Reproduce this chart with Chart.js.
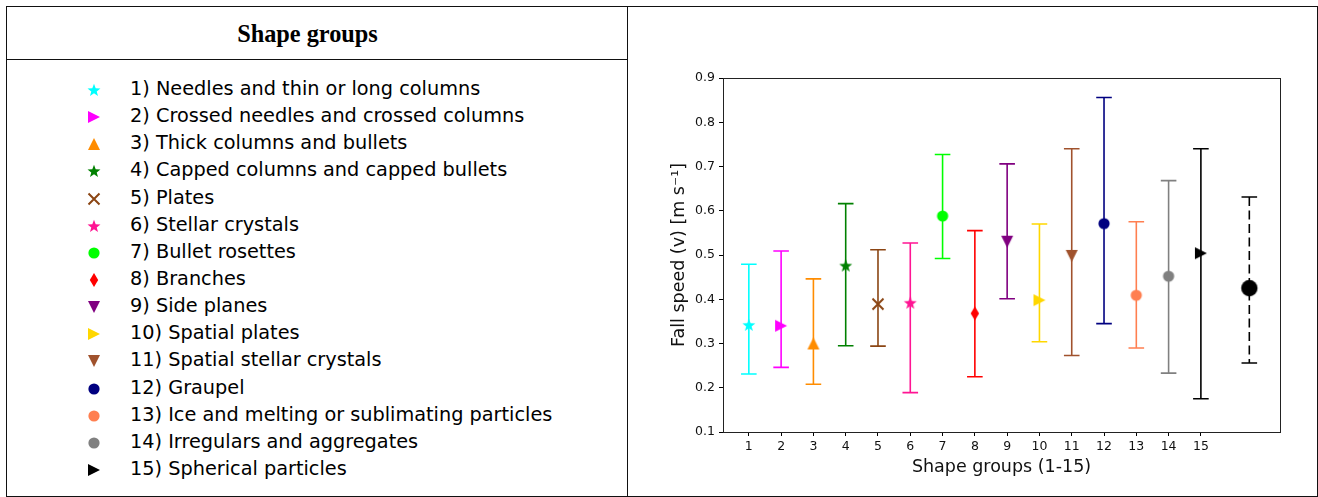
<!DOCTYPE html>
<html>
<head>
<meta charset="utf-8">
<script src="https://cdn.jsdelivr.net/npm/chart.js@4/dist/chart.umd.min.js"></script>
<style>
  html, body { margin: 0; padding: 0; background: #fff; }
  body { width: 1318px; height: 497px; position: relative; overflow: hidden; font-family: "DejaVu Sans", sans-serif; }
  .frame { position: absolute; left: 6px; top: 6px; width: 1310px; height: 489px; border: 1px solid #111; }
  .divider { position: absolute; left: 627px; top: 6px; width: 1px; height: 490px; background: #111; }
  .headLine { position: absolute; left: 6px; top: 59px; width: 621px; height: 1px; background: #111; }
  .title { position: absolute; left: 6px; width: 603px; top: 20px; text-align: center; font-family: "Liberation Serif", serif; font-weight: bold; font-size: 24.3px; color: #000; }
  #legend { position: absolute; left: 0; top: 76px; }
  .row { position: relative; height: 27.15px; width: 620px; }
  .row canvas { position: absolute; left: 86px; top: 6px; }
  .row span { position: absolute; left: 130px; top: 1px; font-size: 19.3px; color: #000; white-space: nowrap; }
  #wrap { position: absolute; left: 628px; top: 7px; width: 688px; height: 488px; }
</style>
</head>
<body>
<div class="frame"></div>
<div class="divider"></div>
<div class="headLine"></div>
<div class="title">Shape groups</div>
<div id="legend"></div>
<div id="wrap"><canvas id="chart"></canvas></div>
<script>
// shape group names (legend)
const groupLabels = [
  "1) Needles and thin or long columns",
  "2) Crossed needles and crossed columns",
  "3) Thick columns and bullets",
  "4) Capped columns and capped bullets",
  "5) Plates",
  "6) Stellar crystals",
  "7) Bullet rosettes",
  "8) Branches",
  "9) Side planes",
  "10) Spatial plates",
  "11) Spatial stellar crystals",
  "12) Graupel",
  "13) Ice and melting or sublimating particles",
  "14) Irregulars and aggregates",
  "15) Spherical particles"
];
// x position of each point (last one = all groups)
const groupX = [1, 2, 3, 4, 5, 6, 7, 8, 9, 10, 11, 12, 13, 14, 15, 16.5];
const meanSpeed = [0.342, 0.340, 0.300, 0.476, 0.389, 0.392, 0.588, 0.368, 0.530, 0.398, 0.498, 0.571, 0.409, 0.452, 0.504, 0.425];
const lowSpeed  = [0.231, 0.246, 0.208, 0.295, 0.294, 0.189, 0.492, 0.225, 0.401, 0.304, 0.273, 0.345, 0.290, 0.233, 0.175, 0.256];
const highSpeed = [0.479, 0.509, 0.446, 0.616, 0.512, 0.527, 0.727, 0.555, 0.706, 0.570, 0.740, 0.856, 0.575, 0.668, 0.740, 0.631];
const xTicks = [1, 2, 3, 4, 5, 6, 7, 8, 9, 10, 11, 12, 13, 14, 15];
const yTicks = [0.1, 0.2, 0.3, 0.4, 0.5, 0.6, 0.7, 0.8, 0.9];

const markerColors = ["#00ffff", "#ff00ff", "#ff8c00", "#008000", "#8b4513", "#ff1493", "#00ff00", "#ff0000",
                      "#800080", "#ffd700", "#a0522d", "#000080", "#ff7f50", "#808080", "#000000", "#000000"];
const markerShapes = ["star", "triRight", "triUp", "star", "x", "star", "circle", "thinDiamond",
                      "triDown", "triRight", "triDown", "circle", "circle", "circle", "triRight", "bigCircle"];

function makeMarker(shape, color) {
  const size = shape === "bigCircle" ? 22 : 16;
  const c = document.createElement("canvas");
  c.width = size; c.height = size;
  const g = c.getContext("2d");
  const m = size / 2;
  g.fillStyle = color; g.strokeStyle = color;
  g.beginPath();
  if (shape === "circle" || shape === "bigCircle") {
    g.arc(m, m, shape === "bigCircle" ? 8.2 : 5.6, 0, Math.PI * 2);
    g.fill();
  } else if (shape === "star") {
    const ro = 6.8, ri = ro * 0.42;
    for (let k = 0; k < 10; k++) {
      const r = k % 2 ? ri : ro;
      const a = -Math.PI / 2 + k * Math.PI / 5;
      g.lineTo(m + r * Math.cos(a), m + 0.5 + r * Math.sin(a));
    }
    g.closePath(); g.fill();
  } else if (shape === "triUp") {
    g.moveTo(m, m - 6); g.lineTo(m + 6, m + 6); g.lineTo(m - 6, m + 6); g.closePath(); g.fill();
  } else if (shape === "triDown") {
    g.moveTo(m, m + 6); g.lineTo(m + 6, m - 6); g.lineTo(m - 6, m - 6); g.closePath(); g.fill();
  } else if (shape === "triRight") {
    g.moveTo(m + 6, m); g.lineTo(m - 6, m - 6); g.lineTo(m - 6, m + 6); g.closePath(); g.fill();
  } else if (shape === "thinDiamond") {
    g.moveTo(m, m - 7); g.lineTo(m + 4.2, m); g.lineTo(m, m + 7); g.lineTo(m - 4.2, m); g.closePath(); g.fill();
  } else if (shape === "x") {
    g.lineWidth = 2;
    g.moveTo(m - 5.5, m - 5.5); g.lineTo(m + 5.5, m + 5.5);
    g.moveTo(m + 5.5, m - 5.5); g.lineTo(m - 5.5, m + 5.5);
    g.stroke();
  }
  return c;
}

const markers = markerShapes.map((s, i) => makeMarker(s, markerColors[i]));

// left panel legend
const legend = document.getElementById("legend");
groupLabels.forEach((txt, i) => {
  const row = document.createElement("div");
  row.className = "row";
  const mk = makeMarker(markerShapes[i], markerColors[i]);
  const sp = document.createElement("span");
  sp.textContent = txt;
  row.appendChild(mk);
  row.appendChild(sp);
  legend.appendChild(row);
});

const errorBars = {
  id: "errorBars",
  beforeDatasetsDraw(chart) {
    const ctx = chart.ctx;
    const xs = chart.scales.x, ys = chart.scales.y;
    ctx.save();
    ctx.lineWidth = 1.6;
    for (let i = 0; i < groupX.length; i++) {
      const px = xs.getPixelForValue(groupX[i]);
      const top = ys.getPixelForValue(highSpeed[i]);
      const bot = ys.getPixelForValue(lowSpeed[i]);
      ctx.strokeStyle = markerColors[i];
      ctx.setLineDash(i === groupX.length - 1 ? [9, 4.5] : []);
      ctx.beginPath(); ctx.moveTo(px, top); ctx.lineTo(px, bot); ctx.stroke();
      ctx.setLineDash([]);
      ctx.beginPath();
      ctx.moveTo(px - 7.8, top); ctx.lineTo(px + 7.8, top);
      ctx.moveTo(px - 7.8, bot); ctx.lineTo(px + 7.8, bot);
      ctx.stroke();
    }
    ctx.restore();
  }
};

const boxFrame = {
  id: "boxFrame",
  afterDraw(chart) {
    const a = chart.chartArea, ctx = chart.ctx;
    ctx.save();
    ctx.strokeStyle = "#222";
    ctx.lineWidth = 1;
    ctx.strokeRect(Math.round(a.left) + 0.5, Math.round(a.top) + 0.5, Math.round(a.right - a.left), Math.round(a.bottom - a.top));
    ctx.restore();
  }
};

new Chart(document.getElementById("chart"), {
  type: "scatter",
  data: {
    datasets: [{
      data: groupX.map((x, i) => ({ x: x, y: meanSpeed[i] })),
      pointStyle: markers,
      pointRadius: 6,
      backgroundColor: markerColors,
      borderColor: markerColors
    }]
  },
  options: {
    responsive: true,
    maintainAspectRatio: false,
    animation: false,
    layout: { padding: { top: 71, right: 36, left: 0, bottom: 0 } },
    plugins: { legend: { display: false }, tooltip: { enabled: false } },
    scales: {
      x: {
        type: "linear",
        min: 0.2,
        max: 17.45,
        afterBuildTicks: s => { s.ticks = xTicks.map(v => ({ value: v })); },
        afterFit: s => { s.height = 63; },
        border: { display: false },
        grid: { drawOnChartArea: false, drawTicks: true, tickLength: 4, color: "#000" },
        ticks: { color: "#111", padding: 3, font: { family: "DejaVu Sans", size: 12.5 }, callback: v => String(v) },
        title: { display: true, text: "Shape groups (1-15)", color: "#111", padding: { top: 0, bottom: 17 },
                 font: { family: "DejaVu Sans", size: 17.5 } }
      },
      y: {
        min: 0.1,
        max: 0.9,
        afterBuildTicks: s => { s.ticks = yTicks.map(v => ({ value: v })); },
        afterFit: s => { s.width = 95; },
        border: { display: false },
        grid: { drawOnChartArea: false, drawTicks: true, tickLength: 4, color: "#000" },
        ticks: { color: "#111", padding: 4, font: { family: "DejaVu Sans", size: 12.5 }, callback: v => v.toFixed(1) },
        title: { display: true, text: "Fall speed (v) [m s\u207B\u00B9]", color: "#111", padding: { top: 41, bottom: 0 },
                 font: { family: "DejaVu Sans", size: 17.5 } }
      }
    }
  },
  plugins: [errorBars, boxFrame]
});
</script>
</body>
</html>
